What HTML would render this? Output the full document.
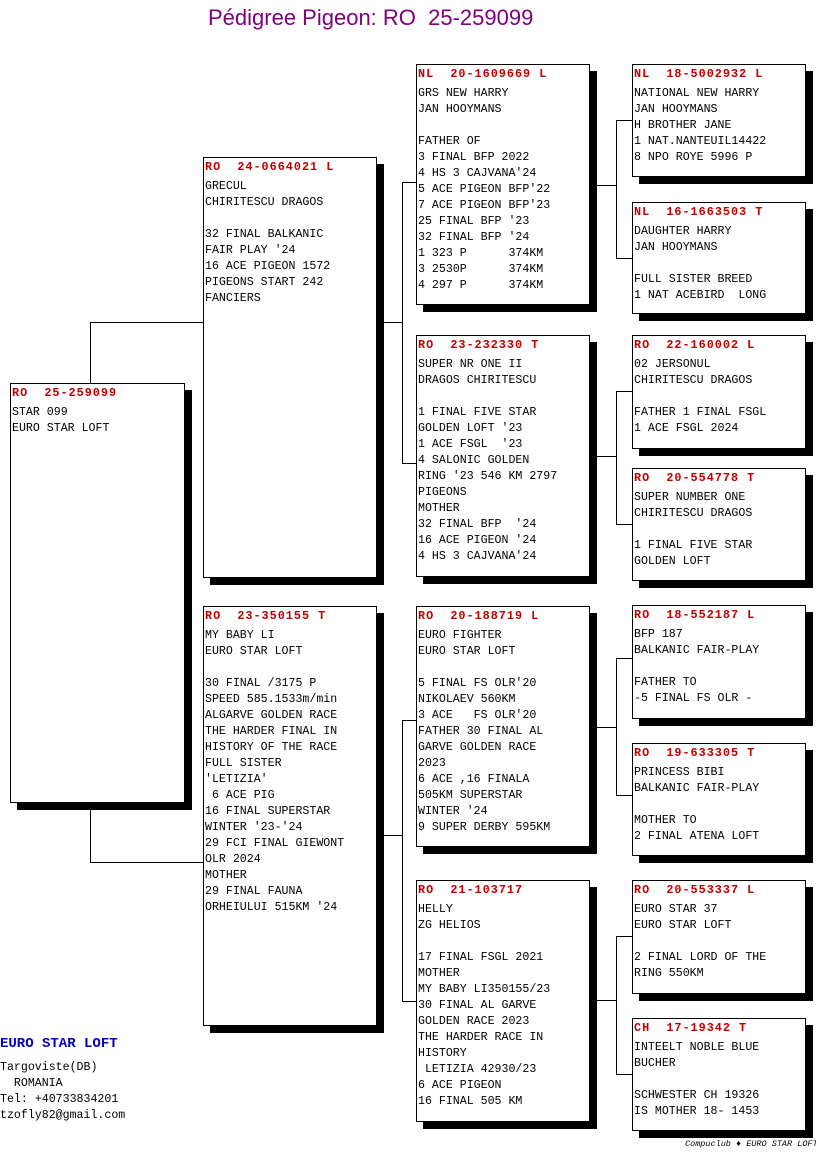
<!DOCTYPE html>
<html><head><meta charset="utf-8"><style>
body{margin:0;width:816px;height:1172px;background:#fff;position:relative;overflow:hidden;font-family:"Liberation Mono",monospace;}
.b{position:absolute;background:#fff;border:1px solid #000;box-shadow:7px 7px 0 #000;box-sizing:border-box;font-size:11.6px;line-height:16px;white-space:pre;padding:1px 0 0 1px;}
.b .h{color:#c00000;font-weight:bold;height:20px;line-height:16px;letter-spacing:1px;font-size:11.8px;}
.l{position:absolute;background:#000;}
.t{position:absolute;white-space:pre;}
</style></head><body>
<div class="t" style="left:208px;top:5px;font-family:'Liberation Sans',sans-serif;font-size:22px;color:#800080;">Pédigree Pigeon: RO  25-259099</div>

<div class="l" style="left:90px;top:322px;width:1px;height:61px"></div>
<div class="l" style="left:90px;top:322px;width:113px;height:1px"></div>
<div class="l" style="left:90px;top:802px;width:1px;height:60px"></div>
<div class="l" style="left:90px;top:862px;width:113px;height:1px"></div>
<div class="l" style="left:383px;top:322px;width:19px;height:1px"></div>
<div class="l" style="left:402px;top:182px;width:1px;height:282px"></div>
<div class="l" style="left:402px;top:182px;width:14px;height:1px"></div>
<div class="l" style="left:402px;top:463px;width:14px;height:1px"></div>
<div class="l" style="left:383px;top:835px;width:19px;height:1px"></div>
<div class="l" style="left:402px;top:720px;width:1px;height:282px"></div>
<div class="l" style="left:402px;top:720px;width:14px;height:1px"></div>
<div class="l" style="left:402px;top:1001px;width:14px;height:1px"></div>
<div class="l" style="left:597px;top:185px;width:19px;height:1px"></div>
<div class="l" style="left:616px;top:120px;width:1px;height:138px"></div>
<div class="l" style="left:616px;top:120px;width:16px;height:1px"></div>
<div class="l" style="left:616px;top:258px;width:16px;height:1px"></div>
<div class="l" style="left:597px;top:456px;width:19px;height:1px"></div>
<div class="l" style="left:616px;top:391px;width:1px;height:133px"></div>
<div class="l" style="left:616px;top:391px;width:16px;height:1px"></div>
<div class="l" style="left:616px;top:524px;width:16px;height:1px"></div>
<div class="l" style="left:597px;top:727px;width:19px;height:1px"></div>
<div class="l" style="left:616px;top:658px;width:1px;height:138px"></div>
<div class="l" style="left:616px;top:658px;width:16px;height:1px"></div>
<div class="l" style="left:616px;top:795px;width:16px;height:1px"></div>
<div class="l" style="left:597px;top:1000px;width:19px;height:1px"></div>
<div class="l" style="left:616px;top:936px;width:1px;height:138px"></div>
<div class="l" style="left:616px;top:936px;width:16px;height:1px"></div>
<div class="l" style="left:616px;top:1074px;width:16px;height:1px"></div>

<div class="b" style="left:10px;top:383px;width:175px;height:420px"><div class="h">RO  25-259099</div>STAR 099
EURO STAR LOFT</div>

<div class="b" style="left:203px;top:157px;width:174px;height:421px"><div class="h">RO  24-0664021 L</div>GRECUL
CHIRITESCU DRAGOS

32 FINAL BALKANIC
FAIR PLAY '24
16 ACE PIGEON 1572
PIGEONS START 242
FANCIERS</div>

<div class="b" style="left:203px;top:606px;width:174px;height:420px"><div class="h">RO  23-350155 T</div>MY BABY LI
EURO STAR LOFT

30 FINAL /3175 P
SPEED 585.1533m/min
ALGARVE GOLDEN RACE
THE HARDER FINAL IN
HISTORY OF THE RACE
FULL SISTER
'LETIZIA'
 6 ACE PIG
16 FINAL SUPERSTAR
WINTER '23-'24
29 FCI FINAL GIEWONT
OLR 2024
MOTHER
29 FINAL FAUNA
ORHEIULUI 515KM '24</div>

<div class="b" style="left:416px;top:64px;width:174px;height:241px"><div class="h">NL  20-1609669 L</div>GRS NEW HARRY
JAN HOOYMANS

FATHER OF
3 FINAL BFP 2022
4 HS 3 CAJVANA'24
5 ACE PIGEON BFP'22
7 ACE PIGEON BFP'23
25 FINAL BFP '23
32 FINAL BFP '24
1 323 P      374KM
3 2530P      374KM
4 297 P      374KM</div>

<div class="b" style="left:416px;top:335px;width:174px;height:242px"><div class="h">RO  23-232330 T</div>SUPER NR ONE II
DRAGOS CHIRITESCU

1 FINAL FIVE STAR
GOLDEN LOFT '23
1 ACE FSGL  '23
4 SALONIC GOLDEN
RING '23 546 KM 2797
PIGEONS
MOTHER
32 FINAL BFP  '24
16 ACE PIGEON '24
4 HS 3 CAJVANA'24</div>

<div class="b" style="left:416px;top:606px;width:174px;height:241px"><div class="h">RO  20-188719 L</div>EURO FIGHTER
EURO STAR LOFT

5 FINAL FS OLR'20
NIKOLAEV 560KM
3 ACE   FS OLR'20
FATHER 30 FINAL AL
GARVE GOLDEN RACE
2023
6 ACE ,16 FINALA
505KM SUPERSTAR
WINTER '24
9 SUPER DERBY 595KM</div>

<div class="b" style="left:416px;top:880px;width:174px;height:242px"><div class="h">RO  21-103717</div>HELLY
ZG HELIOS

17 FINAL FSGL 2021
MOTHER
MY BABY LI350155/23
30 FINAL AL GARVE
GOLDEN RACE 2023
THE HARDER RACE IN
HISTORY
 LETIZIA 42930/23
6 ACE PIGEON
16 FINAL 505 KM</div>

<div class="b" style="left:632px;top:64px;width:174px;height:113px"><div class="h">NL  18-5002932 L</div>NATIONAL NEW HARRY
JAN HOOYMANS
H BROTHER JANE
1 NAT.NANTEUIL14422
8 NPO ROYE 5996 P</div>

<div class="b" style="left:632px;top:202px;width:174px;height:112px"><div class="h">NL  16-1663503 T</div>DAUGHTER HARRY
JAN HOOYMANS

FULL SISTER BREED
1 NAT ACEBIRD  LONG</div>

<div class="b" style="left:632px;top:335px;width:174px;height:114px"><div class="h">RO  22-160002 L</div>02 JERSONUL
CHIRITESCU DRAGOS

FATHER 1 FINAL FSGL
1 ACE FSGL 2024</div>

<div class="b" style="left:632px;top:468px;width:174px;height:113px"><div class="h">RO  20-554778 T</div>SUPER NUMBER ONE
CHIRITESCU DRAGOS

1 FINAL FIVE STAR
GOLDEN LOFT</div>

<div class="b" style="left:632px;top:605px;width:174px;height:114px"><div class="h">RO  18-552187 L</div>BFP 187
BALKANIC FAIR-PLAY

FATHER TO
-5 FINAL FS OLR -</div>

<div class="b" style="left:632px;top:743px;width:174px;height:113px"><div class="h">RO  19-633305 T</div>PRINCESS BIBI
BALKANIC FAIR-PLAY

MOTHER TO
2 FINAL ATENA LOFT</div>

<div class="b" style="left:632px;top:880px;width:174px;height:114px"><div class="h">RO  20-553337 L</div>EURO STAR 37
EURO STAR LOFT

2 FINAL LORD OF THE
RING 550KM</div>

<div class="b" style="left:632px;top:1018px;width:174px;height:113px"><div class="h">CH  17-19342 T</div>INTEELT NOBLE BLUE
BUCHER

SCHWESTER CH 19326
IS MOTHER 18- 1453</div>

<div class="t" style="left:0;top:1036px;font-size:14px;font-weight:bold;color:#0000c0;">EURO STAR LOFT</div>
<div class="t" style="left:0;top:1060px;font-size:11.6px;line-height:16px;">Targoviste(DB)
  ROMANIA
Tel: +40733834201
tzofly82@gmail.com</div>
<div class="t" style="left:685px;top:1139px;font-size:8.5px;font-style:italic;">Compuclub ♦ EURO STAR LOFT</div>
</body></html>
